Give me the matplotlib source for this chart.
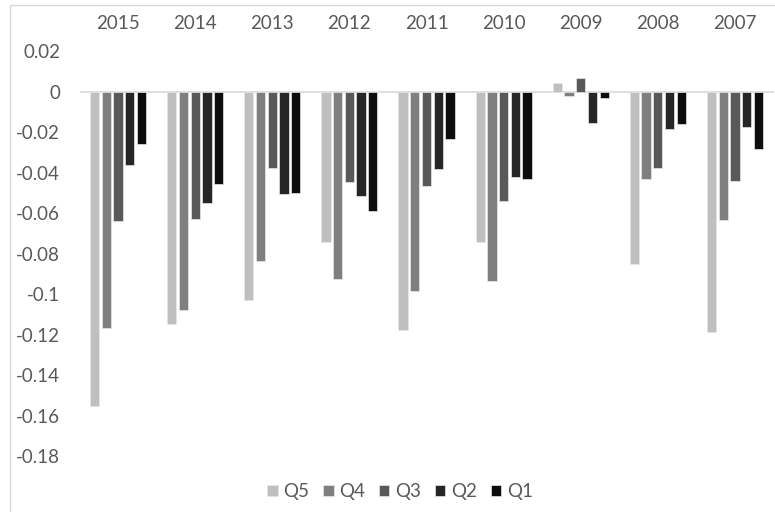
import matplotlib
matplotlib.use("Agg")
import matplotlib.pyplot as plt
from matplotlib.patches import Rectangle
import numpy as np

years = ["2015", "2014", "2013", "2012", "2011", "2010", "2009", "2008", "2007"]
series_names = ["Q5", "Q4", "Q3", "Q2", "Q1"]
q5 = [-0.1555, -0.1146, -0.1028, -0.0741, -0.1176, -0.0744, 0.0044, -0.0851, -0.1187]
q4 = [-0.1168, -0.1079, -0.0838, -0.0925, -0.0983, -0.0937, -0.0020, -0.0433, -0.0636]
q3 = [-0.0640, -0.0629, -0.0379, -0.0448, -0.0466, -0.0540, 0.0068, -0.0377, -0.0441]
q2 = [-0.0364, -0.0550, -0.0505, -0.0515, -0.0382, -0.0420, -0.0157, -0.0183, -0.0173]
q1 = [-0.0258, -0.0459, -0.0502, -0.0588, -0.0234, -0.0431, -0.0031, -0.0160, -0.0285]
colors = ["#bfbfbf", "#7f7f7f", "#595959", "#262626", "#0d0d0d"]
yticks = [0.02, 0, -0.02, -0.04, -0.06, -0.08, -0.1, -0.12, -0.14, -0.16, -0.18]
ytick_labels = ["0.02", "0", "-0.02", "-0.04", "-0.06", "-0.08", "-0.1", "-0.12", "-0.14", "-0.16", "-0.18"]

plt.rcParams['font.family'] = ['Lato', 'DejaVu Sans']
fig = plt.figure(figsize=(7.75, 5.12), dpi=100)
ax = fig.add_axes([79.5 / 775, 1 - 456 / 512, 694 / 775, 405 / 512])

# chart border
fig.patches.append(Rectangle((10 / 775, -0.1), 1.2, 1 - 5 / 512 + 0.1, transform=fig.transFigure,
                             fill=False, edgecolor="#d9d9d9", linewidth=1.0))

x = np.arange(len(years))
pitch = 0.152
width = 0.12
data = [q5, q4, q3, q2, q1]
for i, (name, vals, c) in enumerate(zip(series_names, data, colors)):
    ax.bar(x + (i - 2) * pitch, vals, width=width, color=c, label=name,
           edgecolor="#e8e8e8", linewidth=0.5, zorder=2)

ax.axhline(0, color="#d9d9d9", linewidth=1.2, zorder=1)
ax.set_xlim(-0.5, len(years) - 0.5)
ax.set_ylim(-0.18, 0.02)
ax.set_yticks(yticks)
ax.set_yticklabels(ytick_labels)
ax.set_xticks(x)
ax.set_xticklabels(years)
ax.xaxis.tick_top()
ax.tick_params(axis='x', length=0, pad=14, labelsize=13.5, labelcolor="#595959")
ax.tick_params(axis='y', length=0, pad=14, labelsize=13.5, labelcolor="#595959")
for s in ax.spines.values():
    s.set_visible(False)

leg = fig.legend(loc="center", bbox_to_anchor=(400 / 775, 1 - 491.7 / 512), ncol=5, frameon=False,
                 handlelength=0.55, handleheight=0.55, handletextpad=0.3, columnspacing=0.75,
                 fontsize=13.5, labelcolor="#595959")

fig.savefig("out.png", dpi=100)
